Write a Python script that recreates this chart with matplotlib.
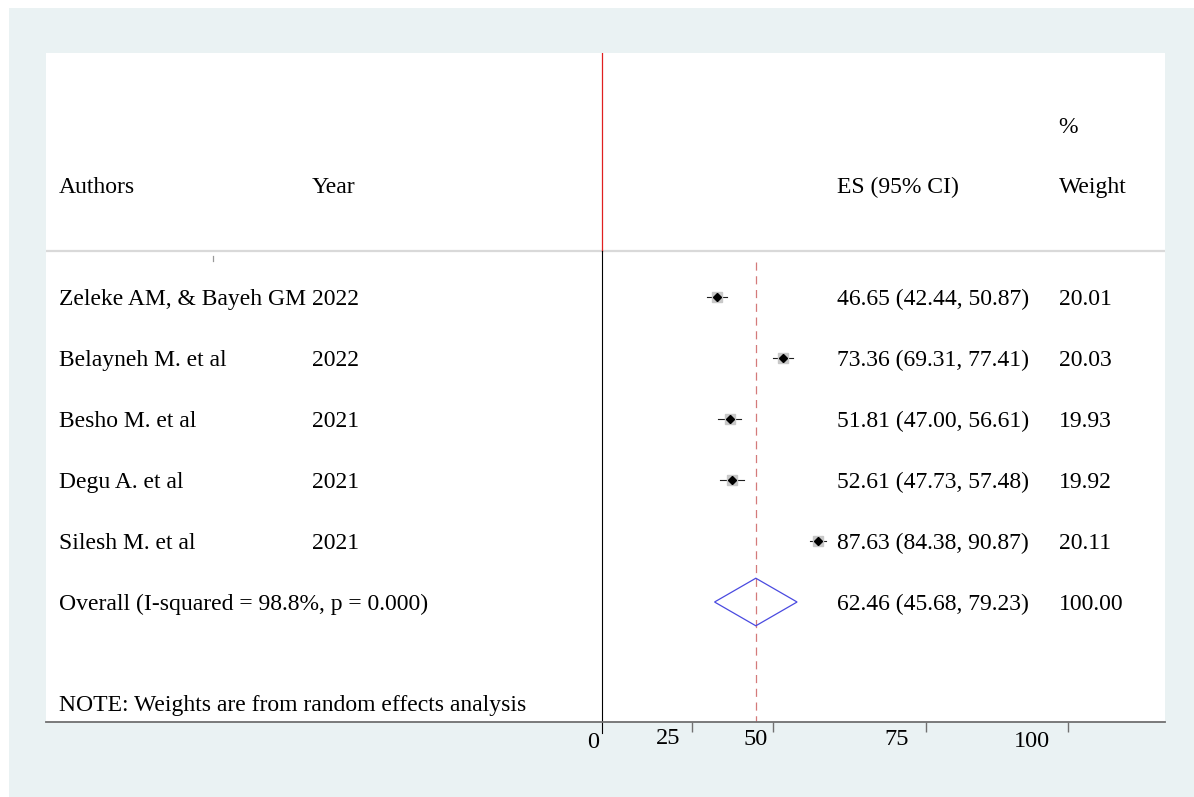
import matplotlib
matplotlib.use("Agg")
import matplotlib.pyplot as plt
from matplotlib.patches import Rectangle, Polygon

# ---- study data -------------------------------------------------------------
authors = ["Zeleke AM, & Bayeh GM", "Belayneh M. et al", "Besho M. et al",
           "Degu A. et al", "Silesh M. et al"]
years = [2022, 2022, 2021, 2021, 2021]
es = [46.65, 73.36, 51.81, 52.61, 87.63]
ci_lo = [42.44, 69.31, 47.00, 47.73, 84.38]
ci_hi = [50.87, 77.41, 56.61, 57.48, 90.87]
weights = [20.01, 20.03, 19.93, 19.92, 20.11]

overall_es = 62.46
overall_lo = 45.68
overall_hi = 79.23
overall_weight = 100.00
i_squared = 98.8
p_value = 0.000

tick_labels = ["0", "25", "50", "75", "100"]

# ---- layout -----------------------------------------------------------------
W, H = 1194, 797
fig = plt.figure(figsize=(W / 100, H / 100), dpi=100, facecolor="white")

# graph region background
fig.patches.append(Rectangle((9 / W, 0), (W - 9) / W, (H - 8) / H,
                             transform=fig.transFigure, facecolor="#EAF2F3",
                             edgecolor="none", zorder=-10))

ax = fig.add_axes([46 / W, (H - 722) / H, 1119 / W, (722 - 53) / H])
ax.set_zorder(5)
ax.set_facecolor("white")
ax.set_xlim(-226.1, 228.8)
ax.set_ylim(6.967, -4.0)
for side in ("top", "left", "right"):
    ax.spines[side].set_visible(False)
ax.spines["bottom"].set_color("#707070")
ax.spines["bottom"].set_linewidth(1.3)
ax.set_yticks([])

# tick marks and their labels on the bottom axis
tick_mark_pos = [36.5, 69.6, 131.6, 189.3]
tick_label_pos = [-3.7, 26.9, 62.5, 119.8, 174.7]
tick_label_y = [7.31, 7.23, 7.25, 7.25, 7.28]
ax.set_xticks(tick_mark_pos)
ax.set_xticklabels([])
ax.tick_params(axis="x", direction="out", length=7.5, width=1.0, color="#707070")

serif = "Liberation Serif"
fs = 17.0
for lbl, xp, yp in zip(tick_labels, tick_label_pos, tick_label_y):
    ax.text(xp, yp, lbl, ha="center", va="center", fontsize=17.5,
            family=serif, clip_on=False)

tx = ax.get_yaxis_transform()  # x in axes fraction, y in data
col_author, col_year, col_es, col_w = 0.0116, 0.2377, 0.7068, 0.905

# headers
y_head, y_pct, y_rule = -1.836, -2.82, -0.754
ax.text(col_author, y_head, "Authors", transform=tx, fontsize=fs, family=serif,
        va="center_baseline")
ax.text(col_year, y_head, "Year", transform=tx, fontsize=fs, family=serif,
        va="center_baseline")
ax.text(col_es, y_head, "ES (95% CI)", transform=tx, fontsize=fs, family=serif,
        va="center_baseline")
ax.text(col_w, y_pct, "%", transform=tx, fontsize=fs, family=serif,
        va="center_baseline")
ax.text(col_w, y_head, "Weight", transform=tx, fontsize=fs, family=serif,
        va="center_baseline")

ax.plot([0, 1], [y_rule, y_rule], transform=tx, color="#d9d9d9", lw=1.6,
        solid_capstyle="butt")

# null line (red above the header rule, black below)
ax.plot([0, 0], [-4.0, y_rule], color="#e02020", lw=0.9)
ax.plot([0, 0], [y_rule, 7.15], color="black", lw=0.8, clip_on=False)
ax.plot([-158.4, -158.4], [-0.672, -0.59], color="#999999", lw=0.9)

# overall effect line
ax.plot([overall_es, overall_es], [-0.57, 6.967], color="#d47a7a",
        lw=0.9, dashes=(6.5, 4.5))

# studies
for i in range(len(es)):
    ax.plot([ci_lo[i], ci_hi[i]], [i, i], color="#202020", lw=0.8, zorder=3)
    ax.plot(es[i], i, marker="s", ms=6.5, color="#c8c8c8", mec="#c8c8c8",
            zorder=4)
    ax.plot(es[i], i, marker="D", ms=4.0, color="black", zorder=5)
    ax.text(col_author, i, authors[i], transform=tx, fontsize=fs,
            family=serif, va="center_baseline")
    ax.text(col_year, i, str(years[i]), transform=tx, fontsize=fs,
            family=serif, va="center_baseline")
    ax.text(col_es, i, f"{es[i]:.2f} ({ci_lo[i]:.2f}, {ci_hi[i]:.2f})",
            transform=tx, fontsize=fs, family=serif, va="center_baseline")
    ax.text(col_w, i, f"{weights[i]:.2f}", transform=tx, fontsize=fs,
            family=serif, va="center_baseline")

# pooled estimate diamond
y_ov = len(es)
half = 0.39
ax.add_patch(Polygon([(overall_lo, y_ov), (overall_es, y_ov - half),
                      (overall_hi, y_ov), (overall_es, y_ov + half)],
                     closed=True, fill=False, edgecolor="#4a4ae0", lw=0.9,
                     zorder=4))
ax.text(col_author, y_ov,
        f"Overall (I-squared = {i_squared:.1f}%, p = {p_value:.3f})",
        transform=tx, fontsize=fs, family=serif, va="center_baseline")
ax.text(col_es, y_ov, f"{overall_es:.2f} ({overall_lo:.2f}, {overall_hi:.2f})",
        transform=tx, fontsize=fs, family=serif, va="center_baseline")
ax.text(col_w, y_ov, f"{overall_weight:.2f}", transform=tx, fontsize=fs,
        family=serif, va="center_baseline")

ax.text(col_author, 6.656, "NOTE: Weights are from random effects analysis",
        transform=tx, fontsize=fs, family=serif, va="center_baseline")

fig.savefig("out.png", dpi=100, facecolor="white")
